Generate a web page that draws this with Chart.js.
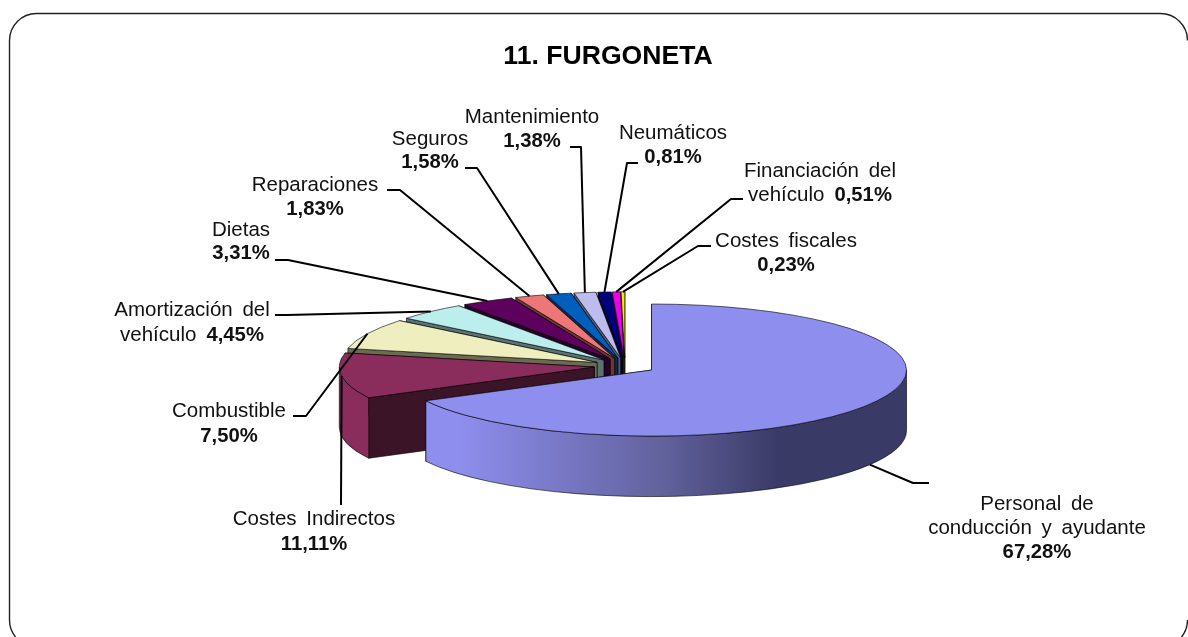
<!DOCTYPE html>
<html>
<head>
<meta charset="utf-8">
<title>11. FURGONETA</title>
<script src="https://cdn.jsdelivr.net/npm/chart.js@4/dist/chart.umd.min.js"></script>
<style>
  html, body { margin: 0; padding: 0; background: #fff; }
  canvas { display: block; }
</style>
</head>
<body>
<canvas id="chartFurgoneta" width="1188" height="637"></canvas>
<script>
// Datos de la gráfica
var categorias = ['Personal de conducción y ayudante', 'Costes Indirectos', 'Combustible', 'Amortización del vehículo', 'Dietas', 'Reparaciones', 'Seguros', 'Mantenimiento', 'Neumáticos', 'Financiación del vehículo', 'Costes fiscales'];
var valores = [67.28, 11.11, 7.50, 4.45, 3.31, 1.83, 1.58, 1.38, 0.81, 0.51, 0.23];

// Colores: cara superior y cara lateral de cada porción
var colores = ['#8E8EEE', '#8A2C5C', '#EEEEBE', '#BCEEEE', '#5E005E', '#EE7676', '#005EBC', '#BCBCEE', '#00007E', '#EE00EE', '#EEEE00'];
var coloresLado = ['#3A3A66', '#3C1428', '#6B6B52', '#5A7272', '#2A002A', '#6E3636', '#002C58', '#585870', '#000038', '#700070', '#707000'];

// Texto de las etiquetas, línea a línea
var lineasEtiqueta = [['Personal de', 'conducción y ayudante'], ['Costes Indirectos'], ['Combustible'], ['Amortización del', 'vehículo'], ['Dietas'], ['Reparaciones'], ['Seguros'], ['Mantenimiento'], ['Neumáticos'], ['Financiación del', 'vehículo'], ['Costes fiscales']];

// Posición de las etiquetas: centro x y línea base de cada renglón
var etiquetaX = [1037, 314, 229, 192, 241, 315, 430, 532, 673, 820, 786];
var etiquetaY = [[510, 534, 558], [525, 550], [417, 442], [316, 341], [236, 259], [191, 215], [145, 168], [123, 147], [139, 163], [177, 201], [247, 271]];

// Codo y final de cada línea guía (empieza en el borde de la porción)
var guias = [[[913, 483], [929, 483]], [[341, 505], [341, 505]], [[306, 416], [293, 416]], [[287, 315], [275, 315]], [[288, 260], [275, 260]], [[400, 190], [387, 190]], [[477, 168], [465, 168]], [[581, 147], [570, 147]], [[627, 163], [638, 163]], [[731, 199], [743, 199]], [[698, 246], [711, 246]]];

// Perspectiva de la tarta
var centroX = 625, centroY = 365.9, radio = 255, aplastado = 0.259, separacion = 31, fondo = 60.5;
var fuente = '"Liberation Sans", Arial, sans-serif';

function pantalla(arc, chart, angulo, r, baja) {
    var a = chart.chartArea;
    var x0 = (a.left + a.right) / 2, y0 = (a.top + a.bottom) / 2;
    return {
        x: centroX + (arc.x - x0) + Math.cos(angulo) * r,
        y: centroY + ((arc.y - y0) + Math.sin(angulo) * r) * aplastado + (baja || 0)
    };
}

function caraRadial(ctx, chart, arc, angulo, color) {
    var c = pantalla(arc, chart, angulo, 0), b = pantalla(arc, chart, angulo, radio);
    ctx.beginPath();
    ctx.moveTo(c.x, c.y);
    ctx.lineTo(b.x, b.y);
    ctx.lineTo(b.x, b.y + fondo);
    ctx.lineTo(c.x, c.y + fondo);
    ctx.closePath();
    ctx.fillStyle = color;
    ctx.fill();
    ctx.stroke();
}

function paredExterior(ctx, chart, arc, i) {
    var a0 = Math.max(arc.startAngle, 0), a1 = Math.min(arc.endAngle, Math.PI);
    if (a0 >= a1) return;
    var c = pantalla(arc, chart, 0, 0);
    ctx.beginPath();
    ctx.ellipse(c.x, c.y, radio, radio * aplastado, 0, a0, a1);
    ctx.ellipse(c.x, c.y + fondo, radio, radio * aplastado, 0, a1, a0, true);
    ctx.closePath();
    if (i === 0) {
        // La pared grande va de claro a oscuro
        var g = ctx.createLinearGradient(c.x - radio, 0, c.x + radio, 0);
        g.addColorStop(0, colores[0]);
        g.addColorStop(0.12, colores[0]);
        g.addColorStop(0.52, '#62629E');
        g.addColorStop(0.75, coloresLado[0]);
        g.addColorStop(1, coloresLado[0]);
        ctx.fillStyle = g;
    } else {
        ctx.fillStyle = colores[i];
    }
    ctx.fill();
    ctx.stroke();
}

var tarta3d = {
    id: 'tarta3d',
    afterDatasetsUpdate: function(chart) {
        // Todas las porciones salen del centro la misma distancia
        chart.getDatasetMeta(0).data.forEach(function(arc) {
            var medio = (arc.startAngle + arc.endAngle) / 2;
            arc.x += Math.cos(medio) * separacion;
            arc.y += Math.sin(medio) * separacion;
        });
    },
    beforeDraw: function(chart) {
        var ctx = chart.ctx;
        ctx.save();
        ctx.fillStyle = '#fff';
        ctx.fillRect(0, 0, chart.width, chart.height);
        ctx.strokeStyle = '#222';
        ctx.lineWidth = 1.4;
        ctx.beginPath();
        ctx.arc(36.5, 620, 27, Math.PI - 0.68, Math.PI, false);
        ctx.lineTo(9.5, 40.5);
        ctx.arc(36.5, 40.5, 27, Math.PI, Math.PI * 1.5);
        ctx.lineTo(1160.5, 13.5);
        ctx.arc(1160.5, 40.5, 27, Math.PI * 1.5, Math.PI * 2);
        ctx.stroke();
        ctx.beginPath();
        ctx.arc(1160.5, 620, 27, 0, 0.68);
        ctx.stroke();
        ctx.restore();
    },
    beforeDatasetsDraw: function(chart) {
        var ctx = chart.ctx, arcs = chart.getDatasetMeta(0).data;
        // Primero las paredes, de atrás hacia delante
        var orden = arcs.map(function(arc, i) { return i; }).sort(function(p, q) {
            return Math.sin((arcs[p].startAngle + arcs[p].endAngle) / 2) - Math.sin((arcs[q].startAngle + arcs[q].endAngle) / 2);
        });
        ctx.save();
        ctx.strokeStyle = 'rgba(0,0,0,0.75)';
        ctx.lineWidth = 0.8;
        orden.forEach(function(i) {
            var arc = arcs[i];
            var angulos = [arc.startAngle, arc.endAngle].sort(function(p, q) { return Math.sin(p) - Math.sin(q); });
            caraRadial(ctx, chart, arc, angulos[0], coloresLado[i]);
            caraRadial(ctx, chart, arc, angulos[1], coloresLado[i]);
            paredExterior(ctx, chart, arc, i);
        });
        ctx.restore();
        // Las caras superiores las pinta Chart.js con el círculo aplastado
        var a = chart.chartArea;
        var x0 = (a.left + a.right) / 2, y0 = (a.top + a.bottom) / 2;
        ctx.save();
        ctx.translate(centroX, centroY);
        ctx.scale(1, aplastado);
        ctx.translate(-x0, -y0);
    },
    afterDatasetsDraw: function(chart) {
        var ctx = chart.ctx, arcs = chart.getDatasetMeta(0).data;
        ctx.restore();

        // Contorno de las caras superiores
        ctx.save();
        ctx.strokeStyle = 'rgba(0,0,0,0.75)';
        ctx.lineWidth = 0.8;
        arcs.forEach(function(arc) {
            var c = pantalla(arc, chart, 0, 0);
            ctx.beginPath();
            ctx.moveTo(c.x, c.y);
            ctx.ellipse(c.x, c.y, radio, radio * aplastado, 0, arc.startAngle, arc.endAngle);
            ctx.closePath();
            ctx.stroke();
        });
        ctx.restore();

        // Líneas guía
        ctx.save();
        ctx.strokeStyle = '#000';
        ctx.lineWidth = 2;
        ctx.lineJoin = 'round';
        arcs.forEach(function(arc, i) {
            var medio = (arc.startAngle + arc.endAngle) / 2;
            var p = pantalla(arc, chart, medio, radio, Math.sin(medio) > 0.3 ? fondo : 0);
            ctx.beginPath();
            ctx.moveTo(p.x, p.y);
            guias[i].forEach(function(q) { ctx.lineTo(q[0], q[1]); });
            ctx.stroke();
        });
        ctx.restore();

        // Etiquetas
        ctx.save();
        ctx.fillStyle = '#111';
        ctx.textBaseline = 'alphabetic';
        ctx.wordSpacing = '4px';
        var normal = '20.5px ' + fuente, negrita = 'bold 20.3px ' + fuente;
        categorias.forEach(function(nombre, i) {
            var lineas = lineasEtiqueta[i], ys = etiquetaY[i];
            var valor = valores[i].toFixed(2).replace('.', ',') + '%';
            lineas.forEach(function(texto, n) {
                var enLinea = n === lineas.length - 1 && ys.length === lineas.length;
                ctx.font = normal;
                var ancho = ctx.measureText(texto).width;
                var extra = 0;
                if (enLinea) {
                    ctx.font = negrita;
                    extra = ctx.measureText(valor).width + 10;
                }
                var x = etiquetaX[i] - (ancho + extra) / 2;
                ctx.font = normal;
                ctx.textAlign = 'left';
                ctx.fillText(texto, x, ys[n]);
                if (enLinea) {
                    ctx.font = negrita;
                    ctx.fillText(valor, x + ancho + 10, ys[n]);
                }
            });
            if (ys.length > lineas.length) {
                ctx.font = negrita;
                ctx.textAlign = 'center';
                ctx.fillText(valor, etiquetaX[i], ys[ys.length - 1]);
            }
        });
        ctx.restore();
    }
};

var ctxFurgoneta = document.getElementById('chartFurgoneta').getContext('2d');
new Chart(ctxFurgoneta, {
    type: 'pie',
    data: {
        labels: categorias,
        datasets: [{
            data: valores,
            backgroundColor: colores,
            borderWidth: 0,
            radius: radio,
            clip: false
        }]
    },
    options: {
        responsive: false,
        animation: false,
        events: [],
        layout: { padding: { left: 28 } },
        plugins: {
            legend: { display: false },
            tooltip: { enabled: false },
            title: {
                display: true,
                text: '11. FURGONETA',
                color: '#000',
                font: { family: fuente, size: 26.6, weight: 'bold' },
                padding: { top: 41, bottom: 0 }
            }
        }
    },
    plugins: [tarta3d]
});
</script>
</body>
</html>
